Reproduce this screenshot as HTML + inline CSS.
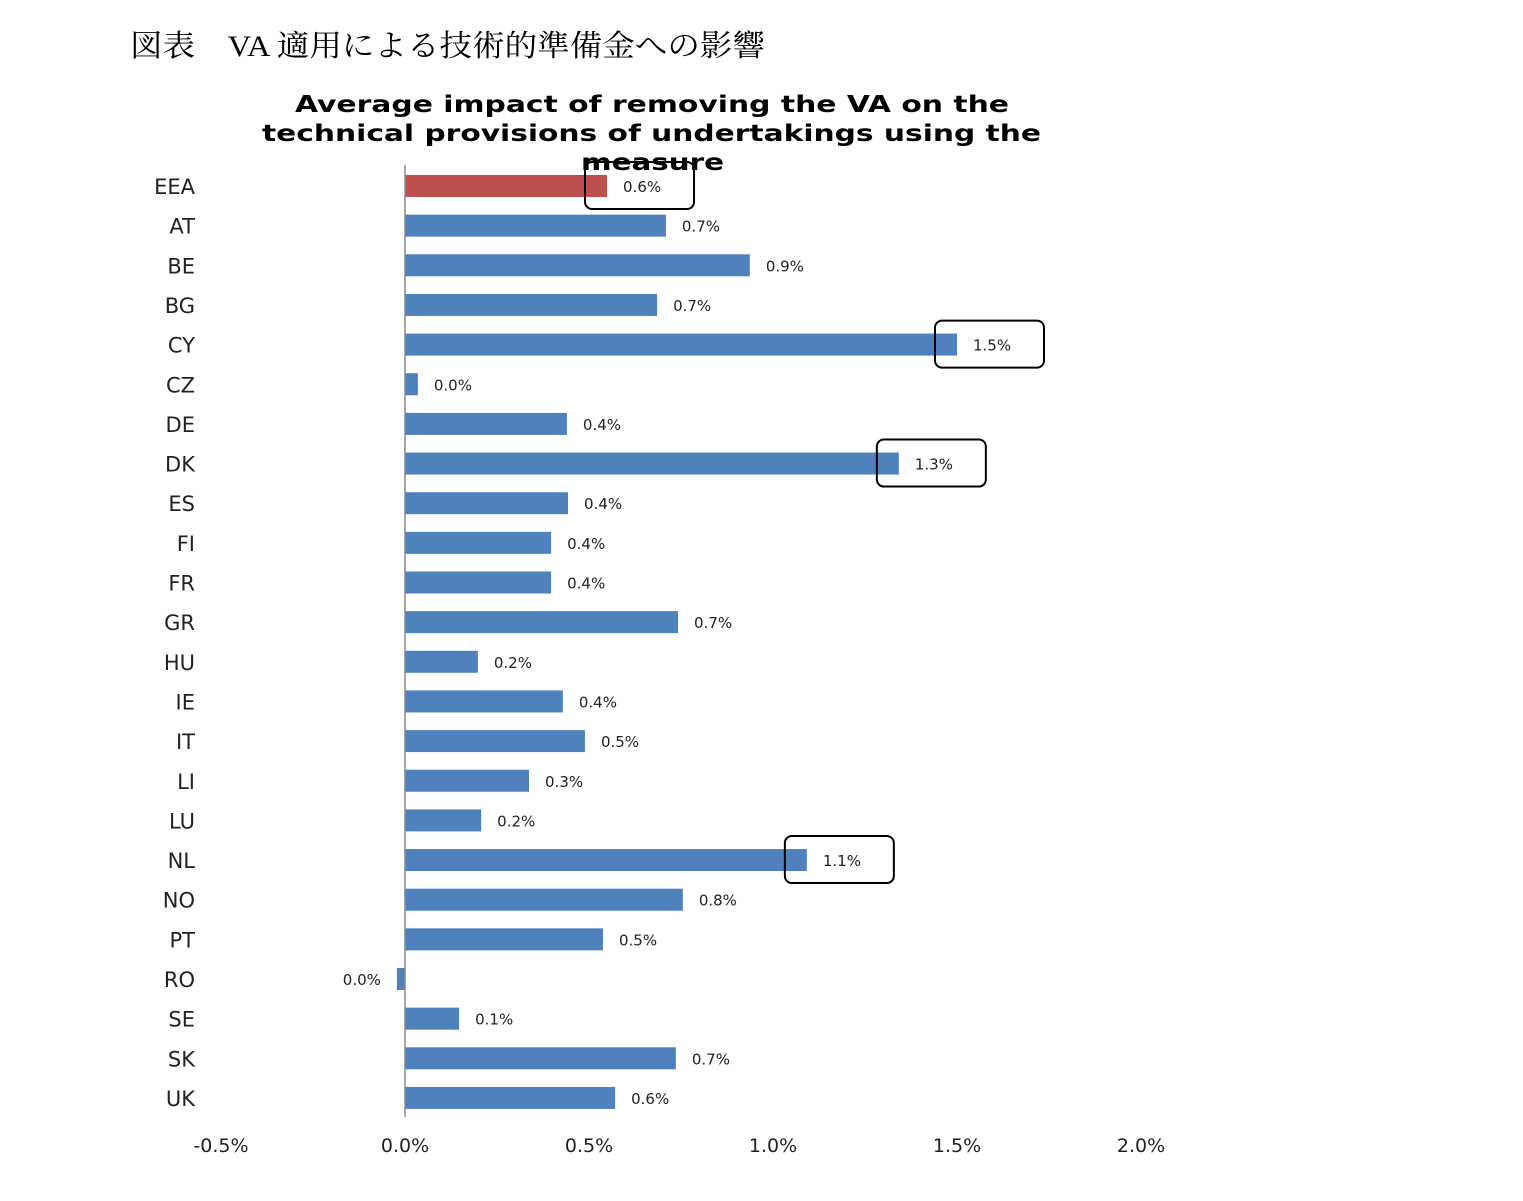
<!DOCTYPE html>
<html><head><meta charset="utf-8"><style>
body{margin:0;background:#fff;}
svg text{font-family:"DejaVu Sans","Liberation Sans",sans-serif;}
</style></head><body>
<svg width="1523" height="1196" xmlns="http://www.w3.org/2000/svg">
<text x="130" y="56" font-size="30" textLength="635" lengthAdjust="spacingAndGlyphs" style="font-family:'Liberation Serif','Noto Serif CJK SC',serif">図表　VA 適用による技術的準備金への影響</text>
<g font-weight="bold" font-size="23">
<text x="295" y="112" textLength="714" lengthAdjust="spacingAndGlyphs">Average impact of removing the VA on the</text>
<text x="262" y="141" textLength="779" lengthAdjust="spacingAndGlyphs">technical provisions of undertakings using the</text>
<text x="581" y="170" textLength="143" lengthAdjust="spacingAndGlyphs">measure</text>
</g>
<g id="plot"></g>
</svg>
<script>
const categories=["EEA","AT","BE","BG","CY","CZ","DE","DK","ES","FI","FR","GR","HU","IE","IT","LI","LU","NL","NO","PT","RO","SE","SK","UK"];
const values=[0.549,0.709,0.937,0.685,1.5,0.035,0.44,1.342,0.443,0.397,0.397,0.742,0.198,0.429,0.489,0.337,0.207,1.092,0.755,0.538,-0.022,0.147,0.736,0.571];
const printed=["0.6%","0.7%","0.9%","0.7%","1.5%","0.0%","0.4%","1.3%","0.4%","0.4%","0.4%","0.7%","0.2%","0.4%","0.5%","0.3%","0.2%","1.1%","0.8%","0.5%","0.0%","0.1%","0.7%","0.6%"];
const ticks=[-0.5,0,0.5,1,1.5,2];
const tickLabels=["-0.5%","0.0%","0.5%","1.0%","1.5%","2.0%"];
const highlighted=["EEA","CY","DK","NL"];
const NS="http://www.w3.org/2000/svg";
const g=document.getElementById('plot');
const x=v=>405+v*368;
const y=i=>186+i*39.65;
function el(t,a){const e=document.createElementNS(NS,t);for(const k in a)e.setAttribute(k,a[k]);g.appendChild(e);return e;}
categories.forEach((c,i)=>{
  const v=values[i];
  const b=el('rect',{x:Math.min(x(0),x(v)),y:y(i)-11,width:Math.abs(x(v)-x(0)),height:22,fill:c==="EEA"?"#c0504d":"#4f81bd"});
  
  
  const l=el('text',{x:195,y:y(i)+8,'font-size':21,'text-anchor':'end',fill:'#222'});
  l.textContent=c;
  
  
  const vl=v<0?el('text',{x:x(v)-16,y:y(i)+6,'font-size':15,'text-anchor':'end',fill:'#222'}):el('text',{x:x(v)+16,y:y(i)+6,'font-size':15,fill:'#222'});
  vl.textContent=printed[i];
  
  
  if(highlighted.includes(c)){
    const r=el('rect',{x:x(v)-22,y:y(i)-24,width:109,height:47,rx:7,fill:'none',stroke:'#000','stroke-width':2});
    
    
  }
});
const ax=el('line',{x1:x(0),x2:x(0),y1:165,y2:1117,stroke:'#888','stroke-width':1.5});


ticks.forEach((t,i)=>{
  const tl=el('text',{x:x(t),y:1152,'font-size':19,'text-anchor':'middle',fill:'#222'});
  tl.textContent=tickLabels[i];
  
  
});
</script>
</body></html>
